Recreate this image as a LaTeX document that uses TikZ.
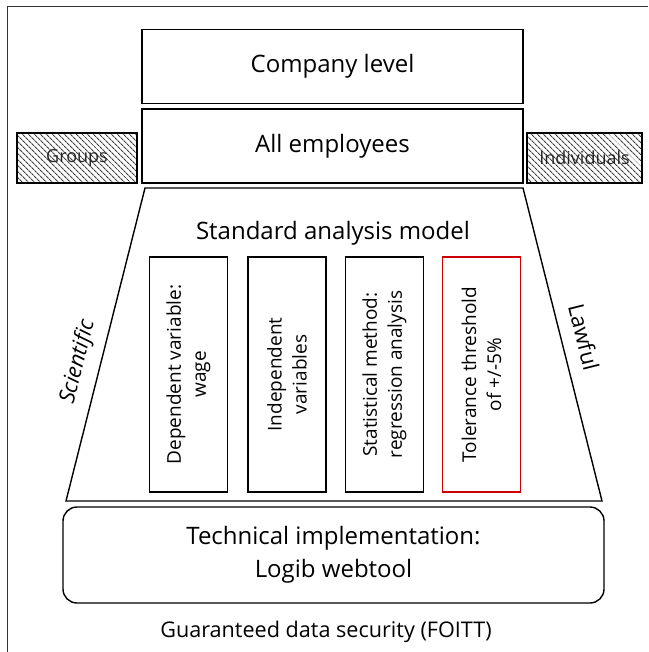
\documentclass[tikz,border=0pt]{standalone}
\usepackage{fontspec}
\setmainfont{Open Sans}
\usetikzlibrary{positioning,patterns.meta}

\begin{document}
\begin{tikzpicture}[x=1pt, y=-1pt,
  level/.style={draw, line width=1.4pt, minimum width=381pt, minimum height=74pt, font=\fontsize{24}{28}\selectfont},
  side/.style={draw, line width=1.4pt, minimum height=50pt, inner sep=0pt,
    pattern={Lines[angle=-45, distance=4pt, line width=1.1pt]}, pattern color=black!75,
    font=\fontsize{18}{21}\selectfont, text=black!85},
  factor/.style={draw, line width=1.3pt, rotate=90, minimum width=235pt, minimum height=78pt,
    align=center, font=\fontsize{19}{25}\selectfont},
  edgelabel/.style={font=\fontsize{22}{26}\selectfont}]
\useasboundingbox (0,0) rectangle (648,652);

% Frame
\draw[line width=0.8pt, black!80] (7,652) -- (7,6) -- (648,6);

% Company level and all employees
\node[level] (company) at (332.5,66.5) {Company level};
\node[level] (staff) at (332.5,146) {All employees};

% Groups / individuals
\node[side, minimum width=120pt] (groups) at (77,158) {Groups};
\node[side, minimum width=115pt] (indiv) at (584.5,158) {Individuals};

% Standard analysis model
\coordinate (tl) at (145,188);
\coordinate (tr) at (523,188);
\coordinate (br) at (602,501);
\coordinate (bl) at (66,501);
\draw[line width=1.4pt] (tl) -- (tr) -- (br) -- (bl) -- cycle;
\node[font=\fontsize{24}{28}\selectfont] (model) at (333,233) {Standard analysis model};

\node[factor] (dep) at (188.5,374.5) {Dependent variable:\\wage};
\node[factor] (indep) at (287,374.5) {Independent\\variables};
\node[factor] (method) at (384.5,374.5) {Statistical method:\\regression analysis};
\node[factor, draw=red!80!black] (tol) at (481.5,374.5) {Tolerance threshold\\of +/-5\%};

\node[edgelabel, font=\itshape\fontsize{22}{26}\selectfont, rotate=76] (sci) at (78,362) {Scientific};
\node[edgelabel, rotate=-76] (law) at (584,337) {Lawful};

% Technical implementation
\node[draw, line width=1.4pt, rounded corners=14pt, minimum width=541pt, minimum height=96pt,
  align=center, font=\fontsize{24}{33}\selectfont] (tech) at (333.5,555)
  {Technical implementation:\\Logib webtool};

\node[font=\fontsize{21.6}{25}\selectfont] (secure) at (326,632) {Guaranteed data security (FOITT)};

\end{tikzpicture}
\end{document}
